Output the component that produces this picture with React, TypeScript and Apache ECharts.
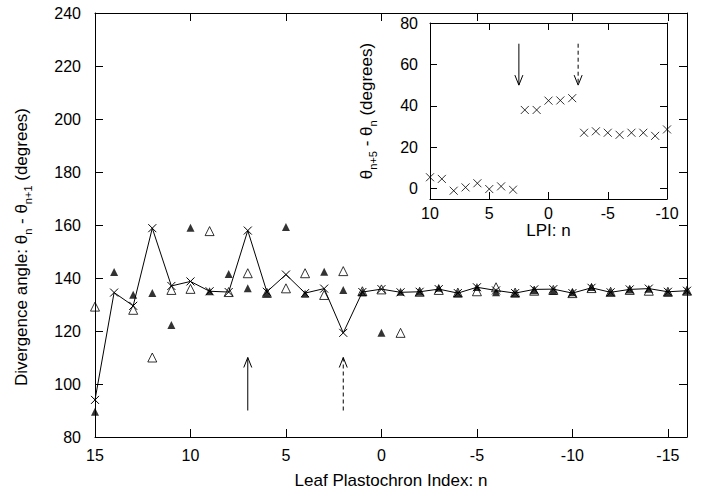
import React, { useEffect, useRef } from "react";
import * as echarts from "echarts";

// Leaf plastochron index (main plot)
const leafIndex = [15, 14, 13, 12, 11, 10, 9, 8, 7, 6, 5, 4, 3, 2, 1, 0, -1, -2, -3, -4, -5, -6, -7, -8, -9, -10, -11, -12, -13, -14, -15, -16];
// × markers joined by a line
const crossValues = [94, 134.5, 129.5, 158.8, 137, 138.7, 135, 134.7, 157.9, 134.8, 141.3, 134.3, 136, 119.3, 134.7, 135.8, 134.6, 134.8, 135.8, 134.3, 136.5, 135.3, 134.3, 135.7, 135.8, 134.3, 136.3, 134.6, 135.7, 136, 134.8, 135.2];
// filled triangles
const filledValues = [89.5, 142.3, 133.7, 134.3, 122.3, 159, 135, 141.5, 136.1, 134.2, 159.2, 134.1, 142.4, 135.5, 134.6, 119.3, 134.8, 134.8, 136.3, 134.2, 136.6, 134.6, 134.2, 135.4, 135.2, 134.6, 136.6, 134.6, 135.7, 135.9, 134.6, 135.2];
// open triangles
const openValues = [129.2, null, 128, 110, 135.5, 135.9, 157.7, 134.7, 141.8, 134.4, 136.1, 141.8, 133.6, 142.6, 135, 135.7, 119.3, 134.8, 135.5, 134.5, 135, 136.5, 134.5, 135.2, 135.5, 134.3, 136.2, 134.8, 135.5, 135.2, 134.8, 135.2];

// inset: θ(n+5) - θ(n)
const insetIndex = [10, 9, 8, 7, 6, 5, 4, 3, 2, 1, 0, -1, -2, -3, -4, -5, -6, -7, -8, -9, -10];
const insetValues = [5.5, 4.7, -1, 0.6, 2.6, -0.2, 1.1, -0.5, 38, 38, 42.5, 42.6, 43.7, 27, 27.7, 27, 26, 27, 27, 25.5, 28.6];

// arrows: [n, from, to, dashed]
const mainArrows = [[7, 90, 110, 0], [2, 90, 110, 1]];
const insetArrows = [[2.5, 70, 50, 0], [-2.5, 70, 50, 1]];

const mainXTicks = [15, 10, 5, 0, -5, -10, -15];
const insetYTicks = [0, 20, 40, 60, 80];

const FONT = "Liberation Sans";
const BLACK = "#000";

function arrowRender(params: any, api: any) {
  const x = api.value(0);
  const a = api.coord([x, api.value(1)]);
  const b = api.coord([x, api.value(2)]);
  const dashed = api.value(3) === 1;
  const dir = b[1] > a[1] ? 1 : -1;
  const headLen = 10;
  const headHalf = 4;
  return {
    type: "group",
    children: [
      {
        type: "line",
        shape: { x1: a[0], y1: a[1], x2: b[0], y2: b[1] },
        style: { stroke: BLACK, lineWidth: 1, lineDash: dashed ? [4, 3] : null },
      },
      {
        type: "polyline",
        shape: {
          points: [
            [b[0] - headHalf, b[1] - dir * headLen],
            [b[0], b[1]],
            [b[0] + headHalf, b[1] - dir * headLen],
          ],
        },
        style: { stroke: BLACK, lineWidth: 1, fill: null },
      },
    ],
  };
}

const CROSS = "path://M0,0L10,10M0,10L10,0";

export default function App() {
  const ref = useRef<HTMLDivElement>(null);
  useEffect(() => {
    if (!ref.current) return;
    const chart = echarts.init(ref.current, null, { renderer: "svg" });
    const axisLine = { show: true, onZero: false, lineStyle: { color: BLACK, width: 1 } };
    const tickStyle = { color: BLACK, fontSize: 16, fontFamily: FONT };
    const nameStyle = { color: BLACK, fontSize: 17, fontFamily: FONT };
    const richSub = {
      sub: { fontSize: 11, fontFamily: FONT, color: BLACK, padding: [12, 0, 0, 0] },
    };
    const pair = (xs: number[], ys: (number | null)[]) =>
      xs.map((x, i) => (ys[i] == null ? [x, null] : [x, ys[i]]));

    chart.setOption({
      animation: false,
      textStyle: { fontFamily: FONT },
      grid: [
        { left: 95, top: 13, width: 592, height: 424 },
        { left: 430, top: 23, width: 237, height: 176 },
      ],
      xAxis: [
        {
          gridIndex: 0, type: "value", min: -16, max: 15, inverse: true, position: "bottom",
          axisLine, splitLine: { show: false },
          axisTick: { inside: true, length: 8, customValues: mainXTicks, lineStyle: { color: BLACK } },
          axisLabel: { ...tickStyle, margin: 10, customValues: mainXTicks },
          name: "Leaf Plastochron Index: n", nameLocation: "middle", nameGap: 35,
          nameTextStyle: { ...nameStyle },
        },
        {
          gridIndex: 0, type: "value", min: -16, max: 15, inverse: true, position: "top",
          axisLine, splitLine: { show: false },
          axisTick: { inside: true, length: 8, customValues: mainXTicks, lineStyle: { color: BLACK } },
          axisLabel: { show: false },
        },
        {
          gridIndex: 1, type: "value", min: -10, max: 10, interval: 5, inverse: true, position: "bottom",
          axisLine, splitLine: { show: false },
          axisTick: { inside: true, length: 7, lineStyle: { color: BLACK } },
          axisLabel: { ...tickStyle, margin: 6 },
          name: "LPI: n", nameLocation: "middle", nameGap: 21,
          nameTextStyle: { ...nameStyle },
        },
        {
          gridIndex: 1, type: "value", min: -10, max: 10, interval: 5, inverse: true, position: "top",
          axisLine, splitLine: { show: false },
          axisTick: { inside: true, length: 7, lineStyle: { color: BLACK } },
          axisLabel: { show: false },
        },
      ],
      yAxis: [
        {
          gridIndex: 0, type: "value", min: 80, max: 240, interval: 20, position: "left",
          axisLine, splitLine: { show: false },
          axisTick: { inside: true, length: 8, lineStyle: { color: BLACK } },
          axisLabel: { ...tickStyle, margin: 14 },
          name: "Divergence angle: θ{sub|n} - θ{sub|n+1} (degrees)",
          nameLocation: "middle", nameGap: 62,
          nameTextStyle: { ...nameStyle, rich: richSub, padding: [0, 44, 0, 0] },
        },
        {
          gridIndex: 0, type: "value", min: 80, max: 240, interval: 20, position: "right",
          axisLine, splitLine: { show: false },
          axisTick: { inside: true, length: 8, lineStyle: { color: BLACK } },
          axisLabel: { show: false },
        },
        {
          gridIndex: 1, type: "value", min: -5, max: 80, position: "left",
          axisLine, splitLine: { show: false },
          axisTick: { inside: true, length: 7, customValues: insetYTicks, lineStyle: { color: BLACK } },
          axisLabel: { ...tickStyle, margin: 12, customValues: insetYTicks },
          name: "θ{sub|n+5} - θ{sub|n} (degrees)",
          nameLocation: "middle", nameGap: 52,
          nameTextStyle: { ...nameStyle, rich: richSub },
        },
        {
          gridIndex: 1, type: "value", min: -5, max: 80, position: "right",
          axisLine, splitLine: { show: false },
          axisTick: { inside: true, length: 7, customValues: insetYTicks, lineStyle: { color: BLACK } },
          axisLabel: { show: false },
        },
      ],
      series: [
        {
          type: "scatter", xAxisIndex: 0, yAxisIndex: 0,
          data: pair(leafIndex, openValues),
          symbol: "triangle", symbolSize: 9,
          itemStyle: { color: "rgba(0,0,0,0)", borderColor: BLACK, borderWidth: 1 },
        },
        {
          type: "scatter", xAxisIndex: 0, yAxisIndex: 0,
          data: pair(leafIndex, filledValues),
          symbol: "triangle", symbolSize: 8,
          itemStyle: { color: BLACK },
        },
        {
          type: "line", xAxisIndex: 0, yAxisIndex: 0,
          data: pair(leafIndex, crossValues),
          symbol: CROSS, symbolSize: 8, showAllSymbol: true,
          lineStyle: { color: BLACK, width: 1 },
          itemStyle: { color: BLACK, borderColor: BLACK, borderWidth: 1 },
        },
        {
          type: "custom", xAxisIndex: 0, yAxisIndex: 0,
          data: mainArrows, encode: { x: 0, y: [1, 2] },
          renderItem: arrowRender, silent: true,
        },
        {
          type: "scatter", xAxisIndex: 2, yAxisIndex: 2,
          data: pair(insetIndex, insetValues),
          symbol: CROSS, symbolSize: 8,
          itemStyle: { color: BLACK, borderColor: BLACK, borderWidth: 1 },
        },
        {
          type: "custom", xAxisIndex: 2, yAxisIndex: 2,
          data: insetArrows, encode: { x: 0, y: [1, 2] },
          renderItem: arrowRender, silent: true,
        },
      ],
    });
    return () => chart.dispose();
  }, []);
  return (
    <div
      ref={ref}
      style={{ position: "absolute", left: 0, top: 0, width: 712, height: 497, background: "#fff" }}
    />
  );
}
